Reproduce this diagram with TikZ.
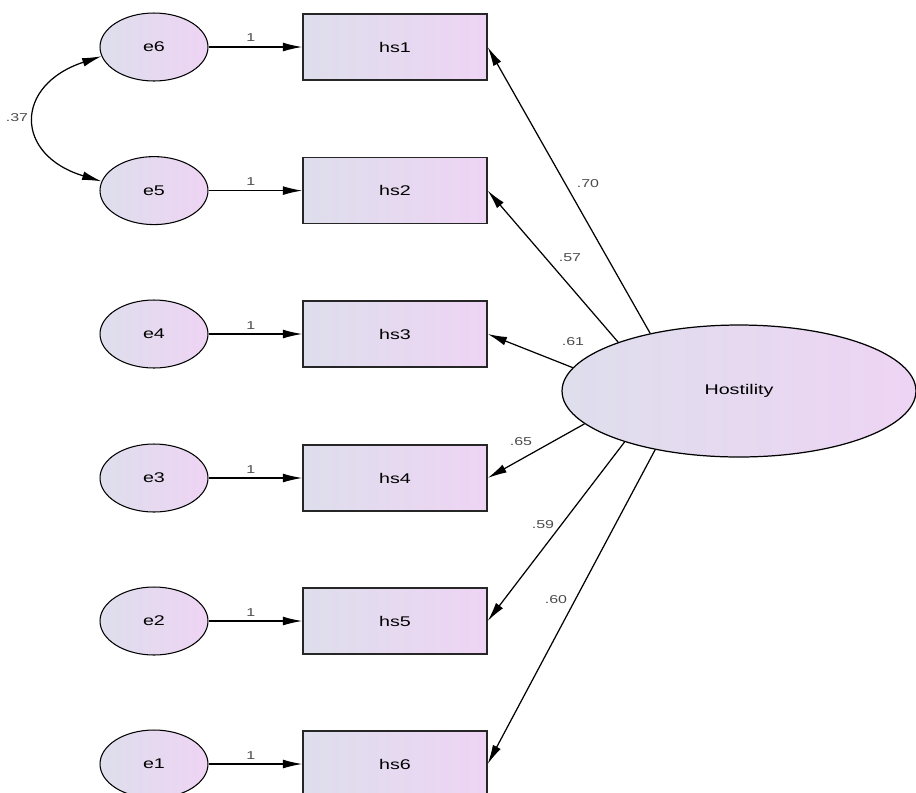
\documentclass[tikz,border=0pt]{standalone}
\usepackage{fontspec}
\setmainfont{Liberation Sans}[FakeStretch=1.4]
\usetikzlibrary{shapes.geometric,arrows.meta}
\definecolor{fillL}{RGB}{222,222,236}
\definecolor{fillR}{RGB}{238,212,244}
\begin{document}
\begin{tikzpicture}[x=0.02cm,y=-0.02cm,
  errnode/.style={ellipse, draw=black, line width=0.6pt, left color=fillL, right color=fillR,
    minimum width=2.16cm, minimum height=1.36cm, inner sep=0pt, font=\fontsize{8}{9}\selectfont},
  obsbox/.style={rectangle, draw=black!85, line width=0.8pt, left color=fillL, right color=fillR,
    minimum width=3.68cm, minimum height=1.32cm, inner sep=0pt, font=\fontsize{8}{9}\selectfont},
  latent/.style={ellipse, draw=black, line width=0.7pt, left color=fillL, right color=fillR,
    minimum width=7.08cm, minimum height=2.64cm, inner sep=0pt, font=\fontsize{8}{9}\selectfont},
  tip/.tip={Latex[length=11pt,width=5pt]},
  path/.style={-tip, line width=0.7pt},
  coef/.style={font=\fontsize{6.5}{7.5}\selectfont, text=black!70, inner sep=1pt}
]
\useasboundingbox (0,0) rectangle (916,792);

% error terms, indicators and their fixed paths
\foreach \y/\e/\h in {47/6/1, 190.6/5/2, 334/4/3, 478/3/4, 621/2/5, 764/1/6} {
  \node[errnode] (e\e) at (154,\y) {e\e};
  \node[obsbox] (hs\h) at (395,\y) {hs\h};
  \draw[path] (e\e) -- (hs\h) node[coef, pos=0.45, above=1.5pt] {1};
}

% latent factor
\node[latent] (host) at (739,391) {Hostility};

% factor loadings
\draw[path] (host.147.5) -- (hs1.east);
\draw[path] (host.158)   -- (hs2.east);
\draw[path] (host.172)   -- (hs3.east);
\draw[path] (host.192)   -- (hs4.east);
\draw[path] (host.204.5) -- (hs5.east);
\draw[path] (host.215)   -- (hs6.east);

\node[coef] (l1) at (588,184) {.70};
\node[coef] (l2) at (570,258) {.57};
\node[coef] (l3) at (573,342) {.61};
\node[coef] (l4) at (521,442) {.65};
\node[coef] (l5) at (543,525) {.59};
\node[coef] (l6) at (556,600) {.60};

% error covariance
\draw[tip-tip, line width=0.7pt] (e6.190) .. controls (14,85) and (14,155) .. (e5.170);
\node[coef] (cov) at (17,118) {.37};
\end{tikzpicture}
\end{document}
